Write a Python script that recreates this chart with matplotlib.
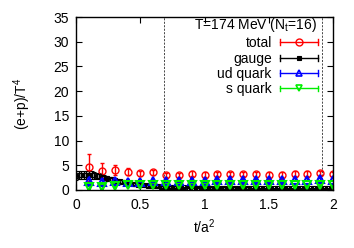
import numpy as np
import matplotlib
matplotlib.use("Agg")
import matplotlib.pyplot as plt
from matplotlib.lines import Line2D
from matplotlib.legend_handler import HandlerBase

# flow time t/a^2 and (e+p)/T^4 contributions, T=174 MeV, Nt=16
t_coarse = [0.1, 0.2, 0.3, 0.4, 0.5, 0.6, 0.7, 0.8, 0.9, 1.0,
            1.1, 1.2, 1.3, 1.4, 1.5, 1.6, 1.7, 1.8, 1.9, 2.0]
total = [4.55, 3.9, 4.0, 3.7, 3.35, 3.6, 3.0, 3.0, 3.3, 3.1,
         3.2, 3.2, 3.2, 3.15, 3.1, 3.1, 3.3, 3.3, 3.4, 3.2]
total_err = [2.7, 1.5, 1.0, 0.7, 0.55, 0.5, 0.45, 0.45, 0.45, 0.45,
             0.45, 0.45, 0.45, 0.45, 0.45, 0.45, 0.45, 0.45, 0.45, 0.45]
ud = [1.8, 1.6, 1.8, 1.7, 1.7, 1.8, 1.8, 1.8, 1.9, 1.9,
      2.0, 2.0, 2.0, 2.0, 2.0, 2.0, 2.1, 2.1, 2.2, 2.1]
ud_err = [0.9, 0.6, 0.4, 0.35, 0.3, 0.3, 0.3, 0.3, 0.3, 0.3,
          0.3, 0.3, 0.3, 0.3, 0.3, 0.3, 0.3, 0.3, 0.3, 0.3]
s_q = [0.6, 0.55, 0.9, 0.95, 0.95, 1.0, 1.0, 1.0, 1.0, 1.0,
       1.0, 1.0, 1.0, 1.0, 1.0, 1.0, 1.0, 1.05, 1.05, 1.05]
s_err = [0.5, 0.4, 0.25, 0.2, 0.2, 0.2, 0.2, 0.2, 0.2, 0.2,
         0.2, 0.2, 0.2, 0.2, 0.2, 0.2, 0.2, 0.2, 0.2, 0.2]

t_fine = [0.00, 0.02, 0.04, 0.06, 0.08, 0.10, 0.12, 0.14, 0.16, 0.18,
          0.20, 0.22, 0.24, 0.26, 0.28, 0.30, 0.32, 0.34, 0.36, 0.38,
          0.40, 0.42, 0.44, 0.46, 0.48, 0.50, 0.52, 0.54, 0.56, 0.58,
          0.60, 0.62, 0.64, 0.66, 0.68, 0.70, 0.72, 0.74, 0.76, 0.78,
          0.80, 0.82, 0.84, 0.86, 0.88, 0.90, 0.92, 0.94, 0.96, 0.98,
          1.00, 1.02, 1.04, 1.06, 1.08, 1.10, 1.12, 1.14, 1.16, 1.18,
          1.20, 1.22, 1.24, 1.26, 1.28, 1.30, 1.32, 1.34, 1.36, 1.38,
          1.40, 1.42, 1.44, 1.46, 1.48, 1.50, 1.52, 1.54, 1.56, 1.58,
          1.60, 1.62, 1.64, 1.66, 1.68, 1.70, 1.72, 1.74, 1.76, 1.78,
          1.80, 1.82, 1.84, 1.86, 1.88, 1.90, 1.92, 1.94, 1.96, 1.98, 2.00]
gauge = [2.9, 3.0, 3.05, 3.1, 3.1, 3.05, 3.0, 2.95, 2.85, 2.75,
         2.65, 2.5, 2.4, 2.25, 2.1, 2.0, 1.85, 1.75, 1.63, 1.53,
         1.43, 1.33, 1.25, 1.17, 1.1, 1.03, 0.97, 0.92, 0.87, 0.83,
         0.79, 0.75, 0.72, 0.69, 0.66, 0.63, 0.61, 0.59, 0.57, 0.55,
         0.53, 0.52, 0.5, 0.49, 0.48, 0.47, 0.46, 0.45, 0.44, 0.43,
         0.43, 0.42, 0.41, 0.41, 0.4, 0.4, 0.39, 0.39, 0.38, 0.38,
         0.38, 0.37, 0.37, 0.37, 0.36, 0.36, 0.36, 0.36, 0.35, 0.35,
         0.35, 0.35, 0.35, 0.34, 0.34, 0.34, 0.34, 0.34, 0.33, 0.33,
         0.33, 0.33, 0.33, 0.33, 0.32, 0.32, 0.32, 0.32, 0.32, 0.32,
         0.32, 0.31, 0.31, 0.31, 0.31, 0.31, 0.31, 0.31, 0.3, 0.3, 0.3]
gauge_err = [0.85, 0.85, 0.85, 0.8, 0.8, 0.78, 0.75, 0.7, 0.65, 0.6,
             0.56, 0.52, 0.49, 0.46, 0.43, 0.4, 0.38, 0.36, 0.34, 0.32,
             0.3, 0.29, 0.28, 0.27, 0.26, 0.25, 0.24, 0.23, 0.22, 0.22,
             0.21, 0.21, 0.2, 0.2, 0.19, 0.19, 0.18, 0.18, 0.17, 0.17,
             0.16, 0.16, 0.16, 0.15, 0.15, 0.15, 0.15, 0.14, 0.14, 0.14,
             0.14, 0.14, 0.14, 0.14, 0.14, 0.14, 0.14, 0.14, 0.14, 0.14,
             0.14, 0.14, 0.14, 0.14, 0.14, 0.14, 0.14, 0.14, 0.14, 0.14,
             0.14, 0.14, 0.14, 0.14, 0.14, 0.14, 0.14, 0.14, 0.14, 0.14,
             0.14, 0.14, 0.14, 0.14, 0.14, 0.14, 0.14, 0.14, 0.14, 0.14,
             0.14, 0.14, 0.14, 0.14, 0.14, 0.14, 0.14, 0.14, 0.14, 0.14, 0.14]

vlines = [0.687, 1.91]


class HandlerHBar(HandlerBase):
    # gnuplot-like key sample: horizontal bar with end caps and a marker
    def create_artists(self, legend, orig_handle, xdescent, ydescent,
                       width, height, fontsize, trans):
        c = orig_handle.get_color()
        x0, x1 = -xdescent, -xdescent + width
        y = height / 2 - ydescent
        h = height * 0.3
        bar = Line2D([x0, x1], [y, y], color=c, lw=1)
        capl = Line2D([x0, x0], [y - h, y + h], color=c, lw=1)
        capr = Line2D([x1, x1], [y - h, y + h], color=c, lw=1)
        mk = Line2D([(x0 + x1) / 2], [y], ls='none', marker=orig_handle.get_marker(),
                    color=c, mfc=orig_handle.get_markerfacecolor(),
                    ms=orig_handle.get_markersize(), mew=orig_handle.get_markeredgewidth())
        arts = [bar, capl, capr, mk]
        for a in arts:
            a.set_transform(trans)
        return arts


plt.rcParams['font.family'] = 'Liberation Sans'
plt.rcParams['font.size'] = 10
plt.rcParams['mathtext.fontset'] = 'custom'
plt.rcParams['mathtext.rm'] = 'Liberation Sans'
plt.rcParams['mathtext.it'] = 'Liberation Sans'
plt.rcParams['mathtext.default'] = 'regular'

fig = plt.figure(figsize=(3.54, 2.48), dpi=100)
ax = fig.add_axes([0.215, 0.234, 0.726, 0.697])

ax.errorbar(t_coarse, total, yerr=total_err, fmt='o', color='#ff0000', mfc='none',
            ms=5, mew=1, elinewidth=1, capsize=1.5)
ax.errorbar(t_fine, gauge, yerr=gauge_err, fmt='s', color='black', mfc='none',
            ms=2.5, mew=0.8, elinewidth=1, capsize=1.5)
ax.errorbar(t_coarse, ud, yerr=ud_err, fmt='^', color='#0000ff', mfc='none',
            ms=5.5, mew=1.5, elinewidth=1, capsize=1.5)
ax.errorbar(t_coarse, s_q, yerr=s_err, fmt='v', color='#00ee00', mfc='none',
            ms=5.5, mew=1.5, elinewidth=1, capsize=1.5)

for xv in vlines:
    ax.axvline(xv, color='black', ls=(0, (3, 2)), lw=0.5)

ax.set_xlim(0, 2)
ax.set_ylim(0, 35)
ax.set_xticks([0, 0.5, 1, 1.5, 2])
ax.set_xticklabels(['0', '0.5', '1', '1.5', '2'])
ax.set_yticks(range(0, 36, 5))
ax.tick_params(direction='in', top=True, right=True, length=4, width=0.8)
ax.tick_params(axis='x', pad=5.5)
ax.tick_params(axis='y', pad=5)
for sp in ax.spines.values():
    sp.set_linewidth(1)

ax.set_xlabel('t/a$^2$', labelpad=4)
ax.set_ylabel('(e+p)/T$^4$', labelpad=15)

# key title drawn as plain text, right-aligned with the key samples
ax.text(0.938, 0.954, 'T=174 MeV (N$_t$=16)', transform=ax.transAxes,
        ha='right', va='center')

handles = [
    Line2D([], [], color='#ff0000', marker='o', mfc='none', ms=5, mew=1),
    Line2D([], [], color='black', marker='s', mfc='black', ms=2.5, mew=0.8),
    Line2D([], [], color='#0000ff', marker='^', mfc='none', ms=5, mew=1.2),
    Line2D([], [], color='#00ee00', marker='v', mfc='none', ms=5, mew=1.2),
]
labels = ['total', 'gauge', 'ud quark', 's quark']
leg = ax.legend(handles, labels, handler_map={Line2D: HandlerHBar()},
                loc='upper right', bbox_to_anchor=(0.94, 0.89), frameon=False,
                markerfirst=False, handlelength=2.7, handletextpad=0.6,
                labelspacing=0.1, borderaxespad=0.0, borderpad=0.0)

fig.savefig('out.png', dpi=100)
